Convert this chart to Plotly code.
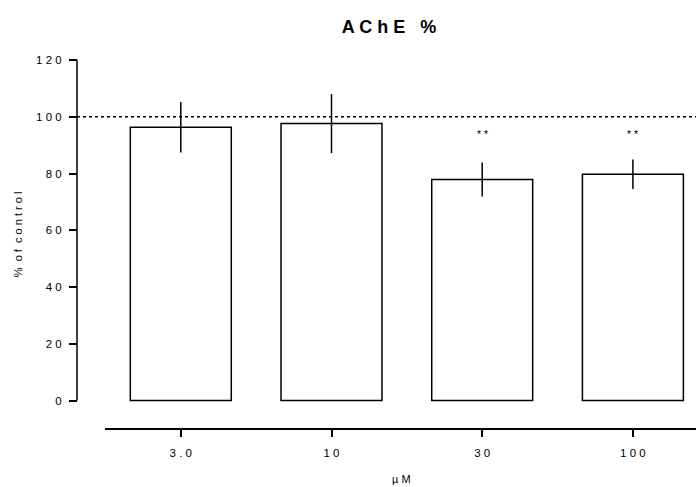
import plotly.graph_objects as go

categories = ["3 . 0", "1 0", "3 0", "1 0 0"]
means = [96.3, 97.6, 77.9, 79.7]
errors = [8.9, 10.4, 6.0, 5.2]
significance = ["", "", "* *", "* *"]
y_ticks = [0, 20, 40, 60, 80, 100, 120]
y_tick_text = ["0", "2 0", "4 0", "6 0", "8 0", "1 0 0", "1 2 0"]
control_level = 100
title_text = "A C h E \u00a0 %"
y_title = "% \u00a0o f \u00a0c o n t r o l"
x_title = "µ M"

W, H = 696, 487
ml, mr = 77, 0
mt = 59.5
x_axis_px = 428
mb = H - x_axis_px
plot_w = W - ml - mr
plot_h = H - mt - mb
px_per_unit = (400.5 - 59.5) / 120.0
y_min = -(428 - 400.5) / px_per_unit

x_pos = list(range(len(categories)))
x_start_px = 105
unit_px = 150.7
first_center_px = 180.8
x_lo = -(first_center_px - x_start_px) / unit_px
x_hi = x_lo + (W - x_start_px) / unit_px

fig = go.Figure()
fig.add_trace(go.Bar(
    x=x_pos, y=means, width=0.67,
    marker=dict(color="white", line=dict(color="black", width=1.5)),
    error_y=dict(type="data", array=errors, visible=True, color="black",
                 thickness=1.5, width=0),
    showlegend=False,
))

font = "Liberation Sans, Arial, sans-serif"

fig.update_layout(
    width=W, height=H,
    margin=dict(l=ml, r=mr, t=mt, b=mb),
    plot_bgcolor="white", paper_bgcolor="white",
    xaxis=dict(
        domain=[(x_start_px - ml) / plot_w, 1],
        range=[x_lo, x_hi],
        tickvals=x_pos, ticktext=categories,
        showline=True, linecolor="black", linewidth=1.5,
        ticks="outside", ticklen=7, tickwidth=1.5, tickcolor="black",
        ticklabelstandoff=6,
        showgrid=False, zeroline=False,
        tickfont=dict(family=font, size=11.5, color="black"),
        anchor="y",
    ),
    yaxis=dict(
        range=[y_min, 120],
        tickvals=y_ticks, ticktext=y_tick_text,
        anchor="free", position=0,
        showline=False, showgrid=False, zeroline=False,
        ticks="outside", ticklen=8, tickwidth=1.5, tickcolor="black",
        ticklabelstandoff=5,
        tickfont=dict(family=font, size=11.5, color="black"),
    ),
    title=dict(text="<b>" + title_text + "</b>", x=389 / W, xanchor="center",
               y=1 - 27 / H, yanchor="middle",
               font=dict(family=font, size=18, color="black")),
)

# y axis line (only spans 0..120)
fig.add_shape(type="line", xref="paper", yref="y", x0=0, x1=0, y0=0, y1=120,
              line=dict(color="black", width=1.5))
# control reference line
fig.add_shape(type="line", xref="paper", yref="y", x0=0, x1=1,
              y0=control_level, y1=control_level,
              line=dict(color="black", width=1.5, dash="dot"))

star_level = 93.8
for xi, s in zip(x_pos, significance):
    if s:
        fig.add_annotation(x=xi, y=star_level, text=s, showarrow=False,
                           font=dict(family=font, size=10.5, color="black"),
                           yanchor="middle")

fig.add_annotation(text=y_title, xref="paper", yref="paper",
                   x=-(ml - 18) / plot_w, y=1 - (234 - mt) / plot_h,
                   textangle=-90, showarrow=False, xanchor="center", yanchor="middle",
                   font=dict(family=font, size=11, color="black"))
fig.add_annotation(text=x_title, xref="paper", yref="paper",
                   x=(401 - ml) / plot_w, y=-(479 - x_axis_px) / plot_h,
                   showarrow=False, xanchor="center", yanchor="middle",
                   font=dict(family=font, size=11, color="black"))

fig.write_html("out.html", config={"displayModeBar": False},
               post_script="document.body.style.margin='0';document.body.style.overflow='hidden';")
